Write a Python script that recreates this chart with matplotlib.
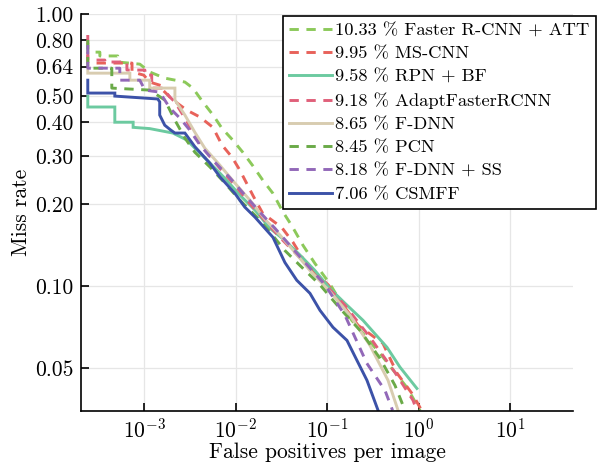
import matplotlib
matplotlib.use("Agg")
import matplotlib.pyplot as plt
from matplotlib.ticker import FixedLocator, FixedFormatter, NullLocator

plt.rcParams['font.family'] = ['cmr10', 'DejaVu Serif']
plt.rcParams['mathtext.fontset'] = 'cm'
plt.rcParams['axes.formatter.use_mathtext'] = True

labels = ["10.33 % Faster R-CNN + ATT", "9.95 % MS-CNN", "9.58 % RPN + BF",
          "9.18 % AdaptFasterRCNN", "8.65 % F-DNN", "8.45 % PCN",
          "8.18 % F-DNN + SS", "7.06 % CSMFF"]

att_x = [2.42e-4, 2.42e-4, 3.28e-4, 3.28e-4, 5.15e-4, 5.15e-4, 8.97e-4, 1.15e-3, 1.68e-3, 2.79e-3,
         3.41e-3, 4.38e-3, 5.67e-3, 7.09e-3, 9.30e-3, 1.20e-2, 1.55e-2, 1.98e-2, 2.56e-2, 3.30e-2,
         4.14e-2, 5.46e-2, 7.37e-2, 0.107, 0.186, 0.379, 0.745, 1.04]
att_y = [0.782, 0.724, 0.724, 0.701, 0.701, 0.666, 0.654, 0.612, 0.581, 0.562,
         0.534, 0.475, 0.425, 0.380, 0.344, 0.310, 0.276, 0.245, 0.219, 0.187,
         0.166, 0.141, 0.121, 0.102, 0.0748, 0.0565, 0.0424, 0.0349]

ms_x = [2.42e-4, 2.42e-4, 7.37e-4, 7.37e-4, 9.9e-4, 1.15e-3, 1.60e-3, 1.60e-3, 2.06e-3, 2.93e-3,
        4.07e-3, 5.65e-3, 7.09e-3, 9.10e-3, 1.11e-2, 1.56e-2, 1.98e-2, 3.20e-2, 4.23e-2, 5.46e-2,
        7.37e-2, 0.103, 0.218, 0.408, 0.584, 0.86, 1.08]
ms_y = [0.707, 0.660, 0.660, 0.612, 0.596, 0.562, 0.543, 0.525, 0.483, 0.443,
        0.418, 0.383, 0.330, 0.298, 0.267, 0.214, 0.185, 0.164, 0.145, 0.126,
        0.112, 0.101, 0.0717, 0.0615, 0.0477, 0.040, 0.0349]

rpn_x = [2.42e-4, 2.42e-4, 4.78e-4, 4.78e-4, 7.58e-4, 7.58e-4, 1.15e-3, 2.06e-3, 2.93e-3, 3.76e-3,
         4.87e-3, 6.24e-3, 7.97e-3, 1.11e-2, 1.63e-2, 2.37e-2, 3.46e-2, 5.05e-2, 7.37e-2, 0.107,
         0.157, 0.247, 0.452, 0.627, 0.96]
rpn_y = [0.498, 0.455, 0.455, 0.400, 0.400, 0.383, 0.379, 0.365, 0.344, 0.316,
         0.290, 0.267, 0.245, 0.216, 0.190, 0.163, 0.147, 0.130, 0.114, 0.098,
         0.0864, 0.0748, 0.0595, 0.0503, 0.042]

ada_x = [2.42e-4, 2.42e-4, 3.72e-4, 3.72e-4, 6.48e-4, 6.48e-4, 1.02e-3, 1.02e-3, 1.21e-3, 1.21e-3,
         1.60e-3, 1.91e-3, 2.17e-3, 2.79e-3, 3.59e-3, 4.61e-3, 6.73e-3, 9.82e-3, 1.43e-2, 2.09e-2,
         3.05e-2, 5.05e-2, 8.36e-2, 0.157, 0.294, 0.553, 0.87, 0.96]
ada_y = [0.837, 0.677, 0.677, 0.666, 0.666, 0.622, 0.622, 0.596, 0.596, 0.534,
         0.534, 0.495, 0.475, 0.414, 0.359, 0.316, 0.271, 0.235, 0.201, 0.174,
         0.151, 0.127, 0.106, 0.0849, 0.0648, 0.0481, 0.038, 0.0348]

fdnn_x = [2.42e-4, 2.42e-4, 6.98e-4, 6.98e-4, 1.15e-3, 1.15e-3, 2.17e-3, 2.17e-3, 2.79e-3, 3.59e-3,
          4.61e-3, 6.73e-3, 9.82e-3, 1.43e-2, 2.09e-2, 3.05e-2, 4.45e-2, 6.50e-2, 0.107, 0.178,
          0.294, 0.464, 0.597]
fdnn_y = [0.622, 0.606, 0.606, 0.571, 0.571, 0.534, 0.534, 0.483, 0.425, 0.367,
          0.321, 0.278, 0.239, 0.207, 0.176, 0.154, 0.133, 0.114, 0.0956, 0.078,
          0.0605, 0.045, 0.0349]

pcn_x = [2.42e-4, 2.42e-4, 4.43e-4, 4.43e-4, 1.15e-3, 1.68e-3, 2.17e-3, 2.79e-3, 3.59e-3, 5.23e-3,
         7.64e-3, 1.11e-2, 1.63e-2, 2.37e-2, 3.46e-2, 5.05e-2, 8.36e-2, 0.138, 0.229, 0.379,
         0.553, 0.711]
pcn_y = [0.802, 0.632, 0.632, 0.534, 0.525, 0.483, 0.407, 0.350, 0.310, 0.274,
         0.239, 0.207, 0.182, 0.158, 0.135, 0.119, 0.101, 0.0828, 0.0687, 0.0542,
         0.0431, 0.0349]

ss_x = [2.42e-4, 2.42e-4, 5.42e-4, 5.42e-4, 8.97e-4, 1.02e-3, 1.48e-3, 1.91e-3, 2.46e-3, 3.16e-3,
        4.07e-3, 5.94e-3, 8.66e-3, 1.26e-2, 1.84e-2, 2.69e-2, 3.93e-2, 5.73e-2, 9.48e-2, 0.157,
        0.272, 0.430, 0.52]
ss_y = [0.769, 0.632, 0.632, 0.571, 0.571, 0.525, 0.516, 0.451, 0.414, 0.374,
        0.330, 0.285, 0.250, 0.216, 0.187, 0.163, 0.141, 0.122, 0.101, 0.078,
        0.052, 0.0413, 0.0349]

csm_x = [2.42e-4, 2.42e-4, 4.78e-4, 4.78e-4, 1.41e-3, 1.48e-3, 1.48e-3, 1.68e-3, 1.96e-3, 2.17e-3,
         2.79e-3, 3.59e-3, 5.23e-3, 6.73e-3, 9.82e-3, 1.26e-2, 1.63e-2, 2.56e-2, 3.46e-2, 4.66e-2,
         6.50e-2, 8.36e-2, 0.116, 0.165, 0.212, 0.273, 0.361]
csm_y = [0.571, 0.512, 0.512, 0.499, 0.487, 0.475, 0.425, 0.390, 0.374, 0.365,
         0.365, 0.325, 0.283, 0.252, 0.219, 0.195, 0.179, 0.151, 0.122, 0.105,
         0.094, 0.0814, 0.0705, 0.0631, 0.0533, 0.0450, 0.0349]

series = [(att_x, att_y), (ms_x, ms_y), (rpn_x, rpn_y), (ada_x, ada_y),
          (fdnn_x, fdnn_y), (pcn_x, pcn_y), (ss_x, ss_y), (csm_x, csm_y)]
colors = ['#8cc95a', '#e8625a', '#6ccaa0', '#e0607a', '#d8ccb0', '#6aaa48', '#9268b8', '#3c52a8']
dashed = [True, True, False, True, False, True, True, False]

yticks = [0.05, 0.10, 0.20, 0.30, 0.40, 0.50, 0.64, 0.80, 1.00]
ytick_labels = ["0.05", "0.10", "0.20", "0.30", "0.40", "0.50", "0.64", "0.80", "1.00"]
xticks = [1e-3, 1e-2, 1e-1, 1e0, 1e1]

fig = plt.figure(figsize=(6.02, 4.66), dpi=100)
ax = fig.add_axes([0.1346, 0.1187, 0.8174, 0.8513])

handles = []
for (xs, ys), c, d, lab in zip(series, colors, dashed, labels):
    ls = (0, (3.2, 2.6)) if d else '-'
    h, = ax.plot(xs, ys, color=c, lw=2.1, ls=ls, label=lab, solid_joinstyle='miter')
    handles.append(h)

ax.set_xscale('log')
ax.set_yscale('log')
ax.set_xlim(10**-3.69, 10**1.69)
ax.set_ylim(0.0348, 1.0)

ax.xaxis.set_major_locator(FixedLocator(xticks))
ax.xaxis.set_minor_locator(NullLocator())
ax.yaxis.set_major_locator(FixedLocator(yticks))
ax.yaxis.set_major_formatter(FixedFormatter(ytick_labels))
ax.yaxis.set_minor_locator(NullLocator())

ax.grid(True, which='major', color='#e6e6e6', lw=0.9)
ax.set_axisbelow(True)
for s in ['top', 'right']:
    ax.spines[s].set_visible(False)
for s in ['left', 'bottom']:
    ax.spines[s].set_linewidth(1.2)
ax.tick_params(direction='in', length=6, width=1.2, labelsize=15.5, pad=5)
ax.tick_params(axis='y', pad=5.5)

ax.set_xlabel("False positives per image", fontsize=15.5, labelpad=1)
ax.set_ylabel("Miss rate", fontsize=15.5, labelpad=3)

leg = ax.legend(handles=handles, loc='upper left', bbox_to_anchor=(0.470, 0.966),
                bbox_transform=fig.transFigure, fontsize=13.3, frameon=True, fancybox=False,
                handlelength=2.3, handletextpad=0.15, borderpad=0.35, labelspacing=0.4,
                borderaxespad=0)
leg.get_frame().set_edgecolor('black')
leg.get_frame().set_linewidth(1.2)
leg.get_frame().set_alpha(1)

fig.savefig("out.png", dpi=100)
